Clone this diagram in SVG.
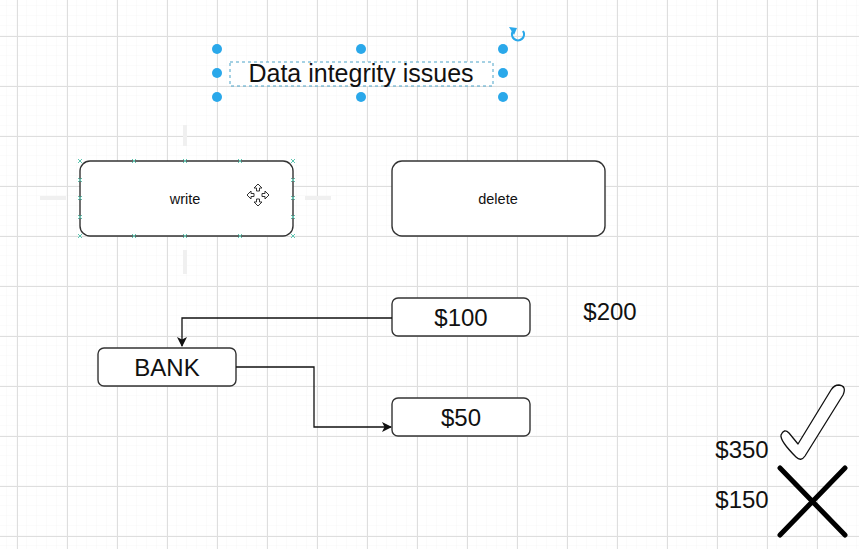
<svg xmlns="http://www.w3.org/2000/svg" width="859" height="549" viewBox="0 0 859 549">
<defs>
<pattern id="minor" x="7" y="6" width="10" height="10" patternUnits="userSpaceOnUse">
<path d="M10 0 V10 M0 10 H10" fill="none" stroke="#f6f6f6" stroke-width="1"/>
</pattern>
<pattern id="major" x="17" y="36" width="50" height="50" patternUnits="userSpaceOnUse">
<path d="M0.5 0 V50 M0 0.5 H50" fill="none" stroke="#dedede" stroke-width="1"/>
</pattern>
<marker id="arr" viewBox="0 0 10 10" refX="9" refY="5" markerWidth="10" markerHeight="10" markerUnits="userSpaceOnUse" orient="auto">
<path d="M0 0 L10 5 L0 10 L2.5 5 Z" fill="#111"/>
</marker>
<style>
.box{fill:#fff;stroke:#333;stroke-width:1.4}
.t{font-family:"Liberation Sans",Arial,sans-serif;fill:#111;text-anchor:middle}
.big{font-size:24px}
.sm{font-size:14.5px}
.h{fill:#2aa8ea}
.conn{fill:none;stroke:#111;stroke-width:1.3}
.cp{fill:none;stroke:#5ec4b0;stroke-width:1}
.ghost{stroke:#f0f0f0;stroke-width:4}
</style>
</defs>
<rect width="859" height="549" fill="#fff"/>
<rect width="859" height="549" fill="url(#minor)"/>
<rect width="859" height="549" fill="url(#major)"/>

<g id="title">
<rect x="230" y="62" width="263" height="24" fill="#fff" stroke="#4aa3c8" stroke-width="1" stroke-dasharray="3 3"/>
<text class="t" x="361" y="82" font-size="25">Data integrity issues</text>
<circle class="h" cx="217" cy="49" r="5"/>
<circle class="h" cx="361" cy="49" r="5"/>
<circle class="h" cx="503" cy="49" r="5"/>
<circle class="h" cx="217" cy="73" r="5"/>
<circle class="h" cx="503" cy="73" r="5"/>
<circle class="h" cx="217" cy="97" r="5"/>
<circle class="h" cx="361" cy="97" r="5"/>
<circle class="h" cx="503" cy="97" r="5"/>
<path d="M523 31 A6 6 0 1 1 513 31" fill="none" stroke="#2aa8ea" stroke-width="2.2"/>
<path d="M509 27 L517 28 L514 35 Z" fill="#2aa8ea"/>
</g>

<g id="ghosts">
<line class="ghost" x1="185" y1="125" x2="185" y2="146"/>
<line class="ghost" x1="185" y1="250" x2="185" y2="274"/>
<line class="ghost" x1="40" y1="198" x2="66" y2="198"/>
<line class="ghost" x1="305" y1="198" x2="331" y2="198"/>
</g>

<g id="write">
<rect class="box" x="80" y="161" width="213" height="75" rx="10"/>
<text class="t sm" x="185" y="204">write</text>
<g class="cp">
<path d="M78 159 l4 4 M82 159 l-4 4 M291 159 l4 4 M295 159 l-4 4 M78 234 l4 4 M82 234 l-4 4 M291 234 l4 4 M295 234 l-4 4"/>
<path d="M132 159 l4 4 M136 159 l-4 4 M183 159 l4 4 M187 159 l-4 4 M238 159 l4 4 M242 159 l-4 4"/>
<path d="M132 234 l4 4 M136 234 l-4 4 M183 234 l4 4 M187 234 l-4 4 M238 234 l4 4 M242 234 l-4 4"/>
<path d="M78 178 l4 4 M82 178 l-4 4 M78 196 l4 4 M82 196 l-4 4 M78 215 l4 4 M82 215 l-4 4"/>
<path d="M291 178 l4 4 M295 178 l-4 4 M291 196 l4 4 M295 196 l-4 4 M291 215 l4 4 M295 215 l-4 4"/>
</g>
<g fill="#fff" stroke="#333" stroke-width="1" stroke-linejoin="round">
<path d="M258 184 l4 4 h-2.5 v3 h-3 v-3 h-2.5 z"/>
<path d="M258 206 l4 -4 h-2.5 v-3 h-3 v3 h-2.5 z"/>
<path d="M247 195 l4 -4 v2.5 h3 v3 h-3 v2.5 z"/>
<path d="M269 195 l-4 -4 v2.5 h-3 v3 h3 v2.5 z"/>
</g>
</g>

<g id="delete">
<rect class="box" x="392" y="161" width="213" height="75" rx="10"/>
<text class="t sm" x="498" y="204">delete</text>
</g>

<g id="n100">
<rect class="box" x="392" y="298" width="138" height="38" rx="6"/>
<text class="t big" x="461" y="326">$100</text>
</g>

<g id="bank">
<rect class="box" x="98" y="348" width="138" height="38" rx="6"/>
<text class="t big" x="167" y="376">BANK</text>
</g>

<g id="n50">
<rect class="box" x="392" y="398" width="138" height="38" rx="6"/>
<text class="t big" x="461" y="426">$50</text>
</g>

<g id="connectors">
<path class="conn" d="M392 318 H182 V346" marker-end="url(#arr)"/>
<path class="conn" d="M236 367 H314 V427 H391" marker-end="url(#arr)"/>
</g>

<g id="labels">
<text class="t big" x="610" y="320">$200</text>
<text class="t big" x="742" y="458">$350</text>
<text class="t big" x="742" y="508">$150</text>
</g>

<g id="check">
<path d="M798 444 L789 433 Q784 428 781 435 Q780 441 796 457 Q801 462 805 456 L843 395 Q847 386 839 385 Q834 385 831 390 Z" fill="#fff" stroke="#111" stroke-width="1.3" stroke-linejoin="round"/>
</g>

<g id="cross">
<path d="M780 468 L845 535 M845 468 L780 535" stroke="#000" stroke-width="5" stroke-linecap="round"/>
</g>
</svg>
